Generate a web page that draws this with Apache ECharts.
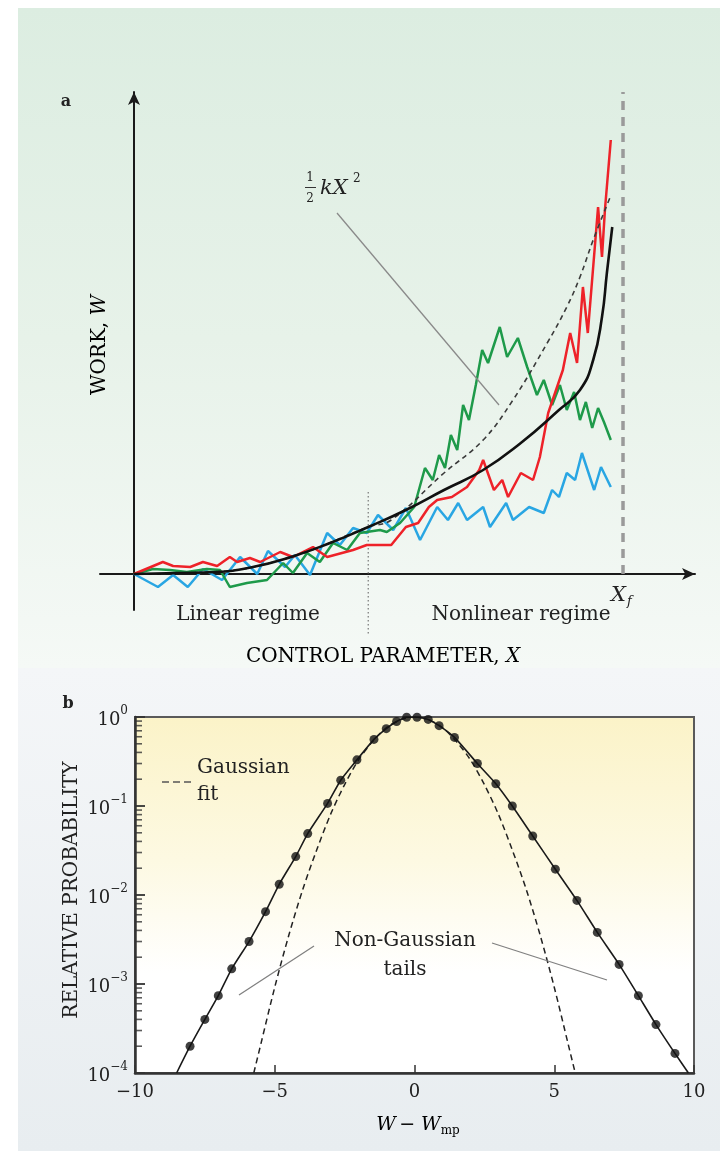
<!DOCTYPE html>
<html><head><meta charset="utf-8">
<script src="https://cdn.jsdelivr.net/npm/echarts@6/dist/echarts.min.js"></script>
<style>
html,body{margin:0;padding:0;background:#fff;}
#wrap{position:relative;width:720px;height:1151px;overflow:hidden;background:#fff;}
.bg{position:absolute;}
#bgA{left:18px;top:8px;width:702px;height:660px;background:linear-gradient(#dcede1,#e7f2e9 50%,#f5f9f6);}
#bgB{left:18px;top:668px;width:702px;height:483px;background:linear-gradient(#f4f6f8,#e8edf0);}
#bgPlot{left:135px;top:717px;width:559px;height:356px;background:linear-gradient(#fbf3c8,#fdf9e2 40%,#fff 72%);}
#chart{position:absolute;left:0;top:0;width:720px;height:1151px;}
</style></head>
<body><div id="wrap"><div class="bg" id="bgA"></div><div class="bg" id="bgB"></div><div class="bg" id="bgPlot"></div><div id="chart"></div></div>
<script>
// ---------- Panel a : work W versus control parameter X (X_f = 1) ----------
const X_F = 1;
const X_REGIME = 0.479;
const redWork = [[0,0],[0.059,0.12],[0.080,0.08],[0.115,0.07],[0.141,0.12],[0.170,0.08],[0.196,0.17],[0.211,0.12],[0.237,0.16],[0.258,0.12],[0.299,0.22],[0.325,0.17],[0.366,0.27],[0.395,0.17],[0.448,0.24],[0.476,0.29],[0.526,0.29],[0.556,0.47],[0.581,0.51],[0.603,0.67],[0.620,0.74],[0.650,0.77],[0.681,0.87],[0.706,1.04],[0.714,1.14],[0.736,0.84],[0.753,0.94],[0.765,0.77],[0.791,1.01],[0.816,0.94],[0.830,1.17],[0.847,1.61],[0.877,2.04],[0.892,2.41],[0.906,2.11],[0.918,2.87],[0.928,2.41],[0.949,3.67],[0.957,3.17],[0.963,3.64],[0.975,4.34]];
const greenWork = [[0,0],[0.039,0.05],[0.074,0.04],[0.108,0.02],[0.149,0.05],[0.176,0.04],[0.196,-0.13],[0.231,-0.09],[0.272,-0.06],[0.305,0.11],[0.325,0.01],[0.354,0.21],[0.380,0.12],[0.407,0.31],[0.436,0.24],[0.462,0.41],[0.503,0.44],[0.517,0.42],[0.544,0.51],[0.573,0.67],[0.595,1.06],[0.611,0.94],[0.624,1.19],[0.636,1.06],[0.648,1.39],[0.661,1.24],[0.673,1.69],[0.685,1.54],[0.699,1.89],[0.712,2.24],[0.724,2.11],[0.748,2.47],[0.763,2.17],[0.785,2.36],[0.804,2.07],[0.824,1.79],[0.838,1.94],[0.855,1.69],[0.871,1.89],[0.885,1.64],[0.900,1.82],[0.912,1.54],[0.924,1.72],[0.937,1.46],[0.949,1.66],[0.961,1.52],[0.975,1.34]];
const blueWork = [[0,0],[0.049,-0.13],[0.080,-0.01],[0.110,-0.13],[0.141,0.05],[0.180,-0.06],[0.217,0.17],[0.252,0.00],[0.274,0.23],[0.309,0.07],[0.329,0.19],[0.360,-0.01],[0.395,0.41],[0.421,0.29],[0.448,0.46],[0.476,0.41],[0.499,0.59],[0.530,0.44],[0.556,0.66],[0.585,0.34],[0.620,0.67],[0.642,0.54],[0.663,0.71],[0.681,0.54],[0.714,0.67],[0.728,0.47],[0.761,0.71],[0.775,0.54],[0.808,0.67],[0.838,0.61],[0.855,0.84],[0.869,0.77],[0.885,1.01],[0.902,0.94],[0.916,1.21],[0.941,0.84],[0.955,1.07],[0.975,0.87]];
const meanWork = [[0,0],[0.088,0.01],[0.166,0.02],[0.243,0.07],[0.321,0.17],[0.401,0.31],[0.479,0.47],[0.556,0.64],[0.634,0.84],[0.714,1.04],[0.791,1.31],[0.869,1.64],[0.912,1.84],[0.939,2.14],[0.957,2.57],[0.967,3.01],[0.978,3.47]];
const springWork = [[0,0],[0.166,0.02],[0.321,0.17],[0.479,0.47],[0.526,0.54],[0.634,1.01],[0.714,1.34],[0.775,1.74],[0.845,2.31],[0.885,2.67],[0.912,2.97],[0.939,3.34],[0.973,3.76]];

// ---------- Panel b : relative probability versus W - Wmp ----------
const dotX = [-8.03,-7.50,-7.02,-6.54,-5.92,-5.33,-4.84,-4.25,-3.82,-3.11,-2.64,-2.06,-1.45,-1.01,-0.64,-0.28,0.09,0.49,0.88,1.43,2.25,2.91,3.50,4.23,5.04,5.81,6.54,7.32,8.01,8.64,9.32];
const dotP = [2.0e-4,4.0e-4,7.4e-4,1.48e-3,3.0e-3,6.5e-3,1.32e-2,2.7e-2,4.9e-2,0.107,0.195,0.33,0.56,0.74,0.89,0.995,0.995,0.94,0.80,0.59,0.30,0.178,0.100,0.046,0.0195,0.0087,0.0038,0.00166,7.4e-4,3.5e-4,1.66e-4];
const curveEndX = [-8.51, 9.80];
const curveEndP = [1.0e-4, 1.0e-4];
const gaussX = [-5.75,-5.5,-5,-4.5,-4,-3.5,-3,-2.5,-2,-1.5,-1,-0.5,0,0.5,1,1.5,2,2.5,3,3.5,4,4.5,5,5.5,5.75];
const gaussP = [1.0e-4,2.1e-4,9.2e-4,3.5e-3,0.0115,0.032,0.081,0.174,0.33,0.53,0.76,0.93,1,0.93,0.76,0.53,0.33,0.174,0.081,0.032,0.0115,3.5e-3,9.2e-4,2.1e-4,1.0e-4];
const decadeExp = [0,-1,-2,-3,-4];
const minorMult = [2,3,4,5,6,7,8,9];

const FONT = 'DejaVu Serif';
const INK = '#222';

const dots = dotX.map((x,i)=>[x,dotP[i]]);
const curve = [[curveEndX[0],curveEndP[0]]].concat(dots,[[curveEndX[1],curveEndP[1]]]);
const gauss = gaussX.map((x,i)=>[x,gaussP[i]]);
const minorTicks = [];
decadeExp.slice(1).forEach(e=>minorMult.forEach(m=>minorTicks.push([-10, m*Math.pow(10,e)])));

const sup = (t)=>t.replace('-','−');

function txt(x,y,text,opt){
  opt = opt||{};
  return {type:'text', x:x, y:y, rotation:opt.rot||0, z:50,
    style:Object.assign({text:text, fill:INK, font:(opt.style||'')+' '+(opt.size||20)+'px "'+FONT+'"',
      align:opt.align||'center', verticalAlign:opt.va||'middle'}, opt.extra||{})};
}
function seg(x1,y1,x2,y2,opt){
  opt=opt||{};
  return {type:'line', z:40, shape:{x1,y1,x2,y2}, style:{stroke:opt.c||'#888', lineWidth:opt.w||1.2, lineDash:opt.dash||null}};
}

const chart = echarts.init(document.getElementById('chart'), null, {renderer:'canvas'});
const lineA = (data,color,w,extra)=>Object.assign({type:'line', xAxisIndex:0, yAxisIndex:0, data:data, showSymbol:false, symbol:'none',
  lineStyle:{color:color, width:w}, animation:false, z:3}, extra||{});

chart.setOption({
  animation:false,
  backgroundColor:'transparent',
  grid:[
    {left:100, top:92, width:595, height:518},
    {left:135, top:717, width:559, height:356, show:true, borderColor:'#5a5a5a', borderWidth:2, backgroundColor:'transparent'}
  ],
  xAxis:[
    {gridIndex:0, type:'value', min:-0.0695, max:1.1472,
      axisLine:{show:true, onZero:true, symbol:['none','arrow'], symbolSize:[9,13], lineStyle:{color:'#1a1a1a', width:2}},
      axisTick:{show:false}, axisLabel:{show:false}, splitLine:{show:false}},
    {gridIndex:1, type:'value', min:-10, max:10, interval:5,
      axisLine:{show:true, onZero:false, lineStyle:{color:'#333', width:2.5}},
      axisTick:{show:true, inside:true, length:8, lineStyle:{color:'#333', width:1.5}},
      axisLabel:{margin:10, fontFamily:FONT, fontSize:18, color:INK, formatter:(v)=> v<0 ? '−'+(-v) : String(v)},
      splitLine:{show:false}}
  ],
  yAxis:[
    {gridIndex:0, type:'value', min:-0.36, max:4.82,
      axisLine:{show:true, onZero:true, symbol:['none','arrow'], symbolSize:[9,13], lineStyle:{color:'#1a1a1a', width:2}},
      axisTick:{show:false}, axisLabel:{show:false}, splitLine:{show:false}},
    {gridIndex:1, type:'log', logBase:10, min:1e-4, max:1, splitNumber:4,
      axisLine:{show:true, onZero:false, lineStyle:{color:'#333', width:2.5}},
      axisTick:{show:true, inside:true, length:10, lineStyle:{color:'#333', width:1.8}},
      axisLabel:{margin:7, color:INK,
        formatter:(v)=>{const e=Math.round(Math.log10(v)); return '{b|10}{s|'+sup(String(e))+'}';},
        rich:{b:{fontFamily:FONT, fontSize:18, color:INK, lineHeight:24, verticalAlign:'bottom'},
              s:{fontFamily:FONT, fontSize:12, color:INK, lineHeight:24, verticalAlign:'top'}}},
      splitLine:{show:false}}
  ],
  series:[
    lineA(blueWork,'#29a6e3',2.5),
    lineA(greenWork,'#1e9a4a',2.5),
    lineA(redWork,'#ee2229',2.5),
    lineA(springWork,'#3a3a3a',1.6,{smooth:0.4, lineStyle:{color:'#3a3a3a', width:1.6, type:[5,4]}}),
    lineA(meanWork,'#111',2.6,{smooth:0.5, z:4}),
    lineA([[X_F,0],[X_F,4.82]],'#9a9a9a',3.5,{lineStyle:{color:'#9a9a9a', width:3.5, type:[9,7]}, z:2}),
    lineA([[X_REGIME,0.82],[X_REGIME,-0.61]],'#777',1,{lineStyle:{color:'#777', width:1.2, type:[1.5,2.5]}, clip:false, z:2}),
    // panel b
    {type:'line', xAxisIndex:1, yAxisIndex:1, data:gauss, smooth:0.3, showSymbol:false, symbol:'none',
      lineStyle:{color:'#222', width:1.5, type:[6,4]}, z:3},
    {type:'line', xAxisIndex:1, yAxisIndex:1, data:curve, smooth:0.2, showSymbol:false, symbol:'none',
      lineStyle:{color:'#1a1a1a', width:1.6}, z:4},
    {type:'scatter', xAxisIndex:1, yAxisIndex:1, data:dots, symbol:'circle', symbolSize:9,
      itemStyle:{color:'#111'}, z:5},
    {type:'scatter', xAxisIndex:1, yAxisIndex:1, data:minorTicks, symbol:'rect', symbolSize:[7,1.6], symbolOffset:[3.5,0],
      itemStyle:{color:'#333'}, z:6, silent:true, clip:false}
  ],
  graphic:[
    // panel a texts
    txt(66,102,'a',{style:'bold', size:16}),
    {type:'text', x:100, y:345, rotation:Math.PI/2, z:50, style:{text:'{n|WORK, }{i|W}', align:'center', verticalAlign:'middle',
      rich:{n:{fontFamily:FONT, fontSize:20, color:INK}, i:{fontFamily:FONT, fontStyle:'italic', fontSize:20, color:INK}}}},
    txt(310,178,'1',{size:12}),
    seg(305,187.5,316,187.5,{c:'#333', w:1}),
    txt(310,199,'2',{size:12}),
    txt(320,189,'kX',{size:21, style:'italic', align:'left'}),
    txt(353,179,'2',{size:12, align:'left'}),
    seg(337,213,499,405,{c:'#8a8a8a', w:1.3}),
    txt(248,615,'Linear regime',{size:20}),
    txt(521,615,'Nonlinear regime',{size:20}),
    txt(611,596,'X',{size:21, style:'italic', align:'left'}),
    txt(627,602,'f',{size:13, style:'italic', align:'left'}),
    {type:'text', x:383, y:657, z:50, style:{text:'{n|CONTROL PARAMETER, }{i|X}', align:'center', verticalAlign:'middle',
      rich:{n:{fontFamily:FONT, fontSize:20, color:INK}, i:{fontFamily:FONT, fontStyle:'italic', fontSize:20, color:INK}}}},
    // panel b texts
    txt(68,704,'b',{style:'bold', size:16}),
    txt(72,890,'RELATIVE PROBABILITY',{size:20, rot:Math.PI/2}),
    seg(162,782,193,782,{c:'#555', w:1.6, dash:[7,4]}),
    txt(197,768,'Gaussian',{size:20, align:'left'}),
    txt(197,795,'fit',{size:20, align:'left'}),
    txt(405,941,'Non-Gaussian',{size:20}),
    txt(405,970,'tails',{size:20}),
    seg(239,995,314,946,{c:'#808080', w:1.3}),
    seg(492,943,607,980,{c:'#808080', w:1.3}),
    {type:'text', x:418, y:1125, z:50, style:{text:'{i|W} {n|− }{i|W}{s|mp}', align:'center', verticalAlign:'middle',
      rich:{n:{fontFamily:FONT, fontSize:19, color:INK, lineHeight:24, verticalAlign:'middle'},
            i:{fontFamily:FONT, fontStyle:'italic', fontSize:19, color:INK, lineHeight:24, verticalAlign:'middle'},
            s:{fontFamily:FONT, fontSize:12, color:INK, lineHeight:24, verticalAlign:'bottom'}}}}
  ]
});
</script>
</body></html>
